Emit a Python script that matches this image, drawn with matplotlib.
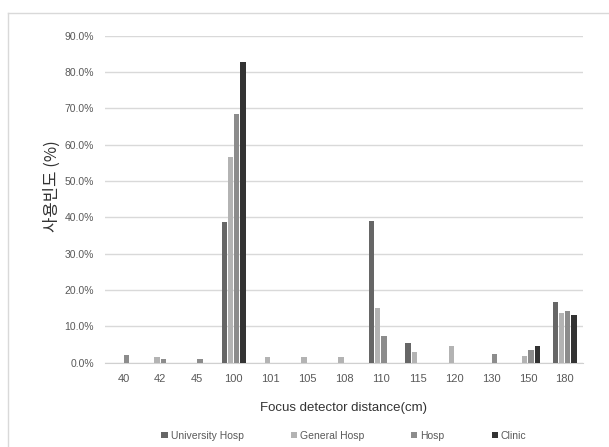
import matplotlib
matplotlib.use('Agg')
import matplotlib.pyplot as plt
import numpy as np
from matplotlib.lines import Line2D

categories = ['40', '42', '45', '100', '101', '105', '108', '110', '115', '120', '130', '150', '180']
univ    = [0.0, 0.0, 0.0, 38.8, 0.0, 0.0, 0.0, 38.9, 5.4, 0.0, 0.0, 0.0, 16.6]
general = [0.0, 1.4, 0.0, 56.6, 1.4, 1.4, 1.4, 15.1, 2.9, 4.5, 0.0, 1.7, 13.5]
hosp    = [2.0, 1.1, 1.1, 68.5, 0.0, 0.0, 0.0, 7.2, 0.0, 0.0, 2.3, 3.5, 14.1]
clinic  = [0.0, 0.0, 0.0, 82.7, 0.0, 0.0, 0.0, 0.0, 0.0, 0.0, 0.0, 4.6, 13.2]
names = ['University Hosp', 'General Hosp', 'Hosp', 'Clinic']
colors = ['#666666', '#b3b3b3', '#8c8c8c', '#333333']
yticks = np.arange(0, 91, 10)

txt = ['Liberation Sans Narrow', 'Liberation Sans', 'DejaVu Sans']
plt.rcParams['font.family'] = txt

fig = plt.figure(figsize=(6.09, 4.47), dpi=100)
# chart area border (only top/left visible in the crop)
fig.add_artist(Line2D([8/609, 8/609], [0, 1 - 13/447], color='#d9d9d9', lw=1))
fig.add_artist(Line2D([8/609, 1], [1 - 13/447, 1 - 13/447], color='#d9d9d9', lw=1))

ax = fig.add_axes([105/609, 0.189, 478/609, 0.7315])
x = np.arange(len(categories))
slot = 0.17
for k, (vals, c) in enumerate(zip([univ, general, hosp, clinic], colors)):
    ax.bar(x + (k - 1.5) * slot, vals, width=0.145, color=c, label=names[k], zorder=3)

ax.set_xlim(-0.5, len(categories) - 0.5)
ax.set_ylim(0, 90)
ax.set_yticks(yticks)
ax.set_yticklabels(['%.1f%%' % v for v in yticks], color='#595959', fontsize=7.5)
ax.set_xticks(x)
ax.set_xticklabels(categories, color='#595959', fontsize=8)
ax.yaxis.grid(True, color='#d9d9d9', lw=1, zorder=0)
for s in ['top', 'right', 'left']:
    ax.spines[s].set_visible(False)
ax.spines['bottom'].set_color('#d0d0d0')
ax.tick_params(axis='both', length=0)
ax.tick_params(axis='y', pad=8)
ax.tick_params(axis='x', pad=8)

ax.set_xlabel('Focus detector distance(cm)', fontsize=9.5, color='#333333', labelpad=13)
ax.set_ylabel('사용빈도 (%)', fontsize=12, color='#333333',
              family=['Noto Sans CJK KR', 'DejaVu Sans'])
ax.yaxis.set_label_coords(-0.092, 0.54)

ax.legend(loc='upper center', bbox_to_anchor=(0.5, -0.18), ncol=4, frameon=False,
          fontsize=7.5, handlelength=0.6, handleheight=0.6, handletextpad=0.3,
          columnspacing=4.5, labelcolor='#595959')

fig.savefig('out.png', dpi=100)
